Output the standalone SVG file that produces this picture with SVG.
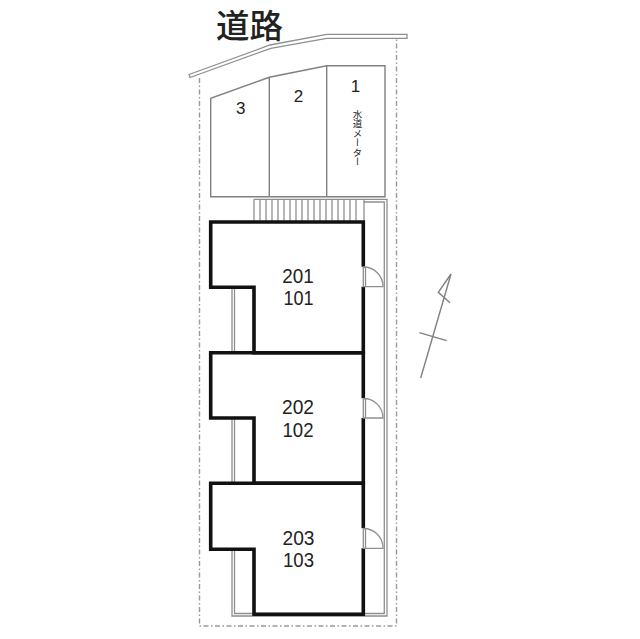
<svg xmlns="http://www.w3.org/2000/svg" width="640" height="639" viewBox="0 0 640 639">
<style>
.g{fill:none;stroke:#8f8f8f;stroke-width:1.3}
.p{fill:none;stroke:#808080;stroke-width:1.4}
.d{fill:none;stroke:#9a9a9a;stroke-width:1.4;stroke-dasharray:5 2.5 1.5 2.5}
.w{fill:none;stroke:#111;stroke-width:3.6;stroke-linejoin:miter}
.t{font-family:"Liberation Sans",Arial,sans-serif;fill:#222;text-anchor:middle}
.r{font-size:21px}
.s{font-size:17px}
.j{font-family:"Noto Sans CJK JP",sans-serif;fill:#222}
</style>
<rect width="640" height="639" fill="#fff"/>
<path class="d" d="M199.5 78V626H396.5V38"/>
<path class="g" d="M189 74.5L270 45L326.7 34.3H407V38.3H326.7L270.7 48.3L190 77.5Z"/>
<path class="p" d="M210.7 196.7V98.3L269.3 77.3L326.7 65.7H385V196.7ZM269.3 77.3V196.7M326.7 65.7V196.7"/>
<path class="g" d="M254 199.3H387V616H232V549M234.5 549V613.5H384.3V202H364M232 418V483M234.5 418V483M232 288V353M234.5 288V353"/>
<path class="g" d="M254 199.3V221M260 199.3V221M266 199.3V221M272 199.3V221M278 199.3V221M284 199.3V221M290 199.3V221M296 199.3V221M302 199.3V221M308 199.3V221M314 199.3V221M320 199.3V221M326 199.3V221M332 199.3V221M338 199.3V221M344 199.3V221M350 199.3V221M356 199.3V221M364 199.3V221"/>
<g id="unit-201">
<path class="w" d="M363.3 266.7V222H210.7V287.3H254V352.7H363.3V286.7"/>
<path class="g" d="M363.3 267V286.7H383A19.5 19.5 0 0 0 363.3 267M365.5 267V286.7"/>
<text class="t r" x="298" y="282.5" textLength="31.5" lengthAdjust="spacingAndGlyphs">201</text>
<text class="t r" x="298.5" y="305" textLength="30" lengthAdjust="spacingAndGlyphs">101</text>
</g>
<g id="unit-202">
<path class="w" d="M363.3 398.3V352.7H210.7V418H254V483.3H363.3V418"/>
<path class="g" d="M363.3 398.5V418H383A19.5 19.5 0 0 0 363.3 398.5M365.5 398.5V418"/>
<text class="t r" x="298" y="414" textLength="32" lengthAdjust="spacingAndGlyphs">202</text>
<text class="t r" x="298" y="436.7" textLength="31" lengthAdjust="spacingAndGlyphs">102</text>
</g>
<g id="unit-203">
<path class="w" d="M363.3 528.3V483.3H210.7V549.3H254V614.3H363.3V548.3"/>
<path class="g" d="M363.3 528.5V548.3H383A19.5 19.5 0 0 0 363.3 528.5M365.5 528.5V548.3"/>
<text class="t r" x="298.5" y="545" textLength="32" lengthAdjust="spacingAndGlyphs">203</text>
<text class="t r" x="298.5" y="567" textLength="31" lengthAdjust="spacingAndGlyphs">103</text>
</g>
<text class="t s" x="355.5" y="92">1</text>
<text class="t s" x="298.5" y="102">2</text>
<text class="t s" x="240.7" y="114">3</text>
<text class="j" x="357.5" y="109.5" font-size="9.5" style="writing-mode:vertical-rl;text-orientation:upright">水道メーター</text>
<text class="j" x="216" y="37.5" font-size="33.5" font-weight="500">道路</text>
<path fill="none" stroke="#808080" stroke-width="1.4" d="M420.7 378L451 274L438.3 292.3L450 302.7M419.3 332.7L446.7 340.7"/>
</svg>
